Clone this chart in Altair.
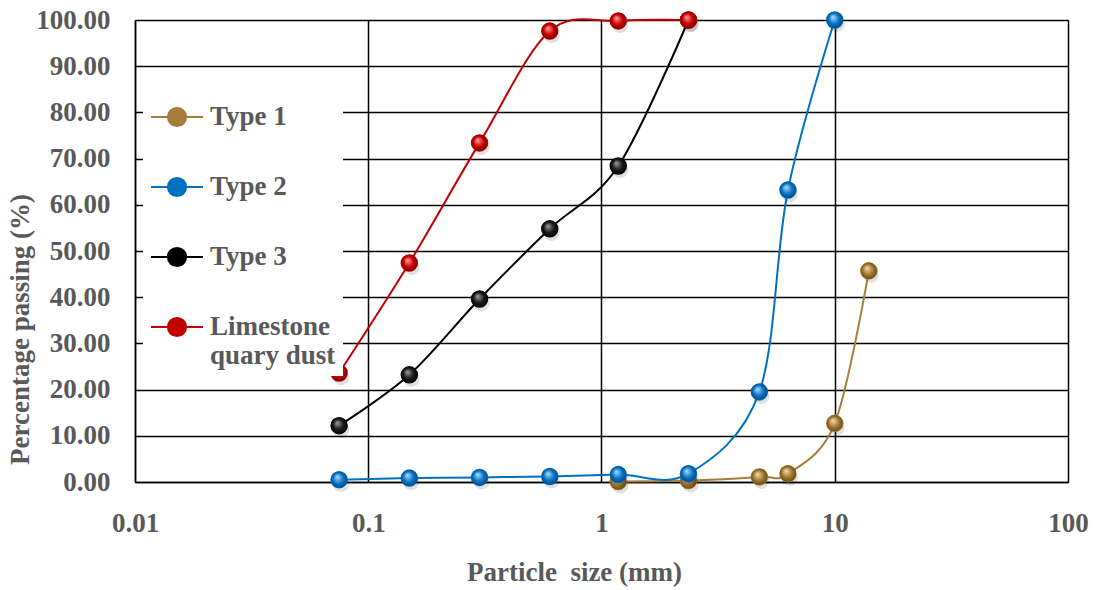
import altair as alt
import pandas as pd

# ---------------- data ----------------
series_names = ["Type 1", "Type 2", "Type 3", "Limestone quary dust"]

sizes_type1 = [1.18, 2.36, 4.75, 6.3, 10, 14]
pass_type1 = [0.1, 0.3, 1.1, 1.8, 12.7, 45.7]

sizes_type2 = [0.075, 0.15, 0.3, 0.6, 1.18, 2.36, 4.75, 6.3, 10]
pass_type2 = [0.5, 0.85, 1.0, 1.2, 1.6, 1.8, 19.5, 63.2, 100]

sizes_type3 = [0.075, 0.15, 0.3, 0.6, 1.18, 2.36]
pass_type3 = [12.2, 23.2, 39.6, 54.8, 68.4, 100]

sizes_lime = [0.075, 0.15, 0.3, 0.6, 1.18, 2.36]
pass_lime = [23.6, 47.4, 73.4, 97.6, 99.8, 100]

x_ticks = [0.01, 0.1, 1, 10, 100]
y_ticks = [0, 10, 20, 30, 40, 50, 60, 70, 80, 90, 100]

line_colors = ["#A67D3D", "#0070C0", "#000000", "#C00000"]
sphere_colors = [
    ("#F2D9A8", "#A67C34", "#5E4216"),
    ("#A9DBFA", "#0A78C8", "#03447A"),
    ("#9A9A9A", "#1C1C1C", "#000000"),
    ("#FF9C9C", "#D00000", "#6E0000"),
]

FONT = "Liberation Serif"
TXT = "#595959"

# ---------------- table ----------------
all_sizes = [sizes_type1, sizes_type2, sizes_type3, sizes_lime]
all_pass = [pass_type1, pass_type2, pass_type3, pass_lime]
rows = []
for name, xs, ys in zip(series_names, all_sizes, all_pass):
    for xv, yv in zip(xs, ys):
        rows.append({"series": name, "size": xv, "passing": yv})
df = pd.DataFrame(rows)

x_enc = alt.X(
    "size:Q",
    scale=alt.Scale(type="log", domain=[0.01, 100]),
    axis=alt.Axis(
        values=x_ticks, format="~g", grid=True, gridColor="black", gridWidth=1.5,
        gridOpacity=1, ticks=False, domainColor="black", domainWidth=1.5,
        labelFont=FONT, labelFontSize=27, labelFontWeight="bold", labelColor=TXT,
        labelPadding=28, labelFlush=False,
        title="Particle\u00a0 size (mm)", titleFont=FONT, titleFontSize=27,
        titleFontWeight="bold", titleColor=TXT, titleX=439, titleY=98,
        titleAlign="center", titleBaseline="alphabetic",
    ),
)
y_enc = alt.Y(
    "passing:Q",
    scale=alt.Scale(domain=[0, 100], nice=False),
    axis=alt.Axis(
        values=y_ticks, format=".2f", grid=True, gridColor="black", gridWidth=1.5,
        gridOpacity=1, ticks=False, domainColor="black", domainWidth=1.5,
        labelFont=FONT, labelFontSize=27, labelFontWeight="bold", labelColor=TXT,
        labelPadding=25,
        title="Percentage passing (%)", titleFont=FONT, titleFontSize=27,
        titleFontWeight="bold", titleColor=TXT, titleX=-107, titleY=309,
        titleAngle=270, titleAlign="center", titleBaseline="alphabetic",
    ),
)

legend = alt.Legend(
    title=None, orient="none", legendX=8, legendY=63, fillColor="white", padding=7,
    symbolType="M-1,0L1,0M0.35,0A0.35,0.35,0,1,1,-0.35,0A0.35,0.35,0,1,1,0.35,0Z",
    symbolSize=2704, symbolStrokeWidth=2, symbolOpacity=1,
    labelFont=FONT, labelFontSize=27, labelFontWeight="bold", labelColor=TXT,
    labelOffset=6, labelLimit=400, rowPadding=29, labelBaseline="middle",
    labelExpr="datum.label == 'Limestone quary dust' ? ['Limestone', 'quary dust'] : datum.label",
)
color_scale = alt.Scale(domain=series_names, range=line_colors)

base = alt.Chart(df)
layers = []
for name, lc, (hi, mid, dark) in zip(series_names, line_colors, sphere_colors):
    sub = base.transform_filter(alt.datum.series == name)
    line = sub.mark_line(interpolate="cardinal", strokeWidth=2, color=lc).encode(
        x=x_enc, y=y_enc,
    )
    grad = {
        "gradient": "radial",
        "x1": 0.38, "y1": 0.32, "r1": 0.02,
        "x2": 0.5, "y2": 0.5, "r2": 0.55,
        "stops": [
            {"offset": 0, "color": hi},
            {"offset": 0.55, "color": mid},
            {"offset": 1, "color": dark},
        ],
    }
    shadow = sub.mark_circle(size=260, color="#000000", opacity=0.12, xOffset=2, yOffset=4).encode(
        x=x_enc, y=y_enc
    )
    flat = sub.mark_point(size=240, filled=True, shape="circle", opacity=1, strokeWidth=2).encode(
        x=x_enc, y=y_enc,
        fill=alt.Fill("series:N", scale=color_scale, legend=legend),
        stroke=alt.Stroke("series:N", scale=color_scale, legend=legend),
    )
    pts = sub.mark_circle(size=260, fill=grad, opacity=1).encode(x=x_enc, y=y_enc)
    layers += [line, shadow, flat, pts]

chart = alt.layer(*layers).properties(
    width=933, height=462,
    autosize=alt.AutoSizeParams(type="none"),
    padding={"left": 135, "top": 20, "right": 26, "bottom": 108},
).configure_view(stroke="black", strokeWidth=1.5).configure(background="white")

chart.save("out.html", embed_options={"renderer": "svg", "actions": False})
